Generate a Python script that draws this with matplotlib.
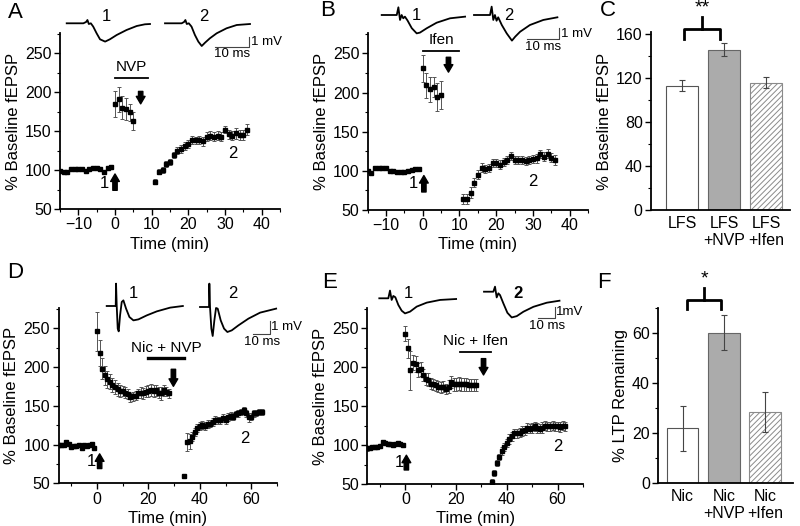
import numpy as np
import matplotlib
matplotlib.use('Agg')
import matplotlib.pyplot as plt
from matplotlib.ticker import MultipleLocator

plt.rcParams['font.family'] = ['Liberation Sans', 'DejaVu Sans']
plt.rcParams['hatch.linewidth'] = 0.7

W, H = 800, 526

# ---- time course data (% baseline fEPSP, mean +/- sem), one point per minute ----
a_base = [99, 98, 97, 101, 101, 102, 101, 99, 101, 103, 103, 101, 98, 103, 104]
a_base_err = [2, 2, 1.5, 2, 1.5, 2, 1.5, 2, 2, 1.5, 2, 2, 1.5, 2, 2]
a_post = [185, 191, 180, 178, 174, 163]
a_post_err = [17, 16, 15, 14, 11, 11]
a_rec = [85, 98, 100, 108, 110, 119, 125, 127, 131, 133, 139, 138, 139,
         137, 143, 144, 143, 144, 143, 152, 146, 144, 147, 145, 145, 152]
a_rec_err = [3, 3, 4, 4, 4, 4, 5, 5, 5, 5, 5, 5, 5, 6, 6, 6, 6, 6, 6, 5, 6, 6, 7, 6, 7, 7]

b_base = [100, 97, 104, 104, 103, 103, 100, 100, 98, 98, 99, 100, 101, 102, 102]
b_base_err = [2, 2, 2, 1.5, 1.5, 2, 2, 1.5, 1.5, 2, 2, 1.5, 2, 2, 2]
b_post = [231, 209, 204, 207, 194, 197]
b_post_err = [17, 16, 16, 13, 18, 18]
b_rec = [64, 64, 72, 85, 95, 104, 102, 104, 110, 110, 108, 111, 114,
         119, 114, 114, 114, 113, 114, 115, 116, 122, 118, 122, 117, 114]
b_rec_err = [6, 6, 7, 6, 6, 6, 5, 5, 5, 5, 6, 5, 5, 5, 5, 5, 5, 5, 5, 5, 6, 5, 6, 6, 6, 6]

d_base = [100, 99, 100, 103, 101, 97, 98, 98, 99, 96, 99, 98, 99, 101, 96]
d_base_err = [2, 1.5, 2, 2, 1.5, 2, 2, 1.5, 2, 2, 1.5, 2, 2, 2, 1.5]
d_post = [246, 218, 198, 189, 184, 181, 177, 174, 171, 169, 169, 167, 165, 161, 162,
          163, 166, 167, 166, 168, 169, 170, 169, 170, 167, 166, 170, 168, 166]
d_post_err = [25, 17, 14, 12, 11, 10, 9, 9, 8, 8, 7, 7, 6, 6, 6,
              6, 6, 7, 7, 7, 8, 8, 8, 7, 7, 8, 7, 6, 6]
d_dip = [59]
d_dip_err = [2]
d_rec = [103, 104, 110, 116, 121, 124, 125, 124, 126, 127, 129, 132, 131, 131, 134,
         132, 135, 137, 136, 139, 140, 142, 144, 140, 135, 136, 140, 141, 142, 142]
d_rec_err = [12, 10, 6, 5, 5, 5, 5, 5, 5, 5, 5, 5, 5, 5, 5,
             5, 5, 5, 5, 4, 4, 4, 4, 4, 6, 5, 4, 4, 4, 4]

e_base = [96, 96, 97, 97, 98, 99, 104, 103, 102, 101, 100, 102, 103, 101, 100]
e_base_err = [3, 2, 2, 2, 2, 1.5, 2, 2, 1.5, 2, 2, 1.5, 2, 2, 2]
e_post = [243, 224, 196, 206, 204, 196, 198, 190, 185, 184, 179, 178, 177, 175, 174,
          175, 172, 175, 181, 178, 178, 179, 178, 178, 178, 177, 177, 177, 177]
e_post_err = [10, 12, 25, 10, 10, 9, 9, 8, 8, 8, 7, 7, 7, 7, 7,
              7, 7, 8, 8, 8, 8, 8, 8, 8, 8, 8, 8, 8, 8]
e_rec = [53, 64, 77, 85, 92, 98, 103, 108, 111, 115, 115, 116, 118, 119, 122,
         121, 122, 124, 122, 121, 122, 125, 124, 124, 125, 124, 124, 123, 125, 124]
e_rec_err = [3, 4, 4, 4, 5, 5, 5, 6, 6, 6, 6, 6, 6, 6, 6,
             6, 6, 6, 6, 6, 7, 6, 6, 6, 6, 6, 6, 6, 6, 6]

# ---- summary bars ----
c_labels = ['LFS', 'LFS\n+NVP', 'LFS\n+Ifen']
c_vals = [113, 146, 116]
c_err = [5, 6, 5]
f_labels = ['Nic', 'Nic\n+NVP', 'Nic\n+Ifen']
f_vals = [22, 60.3, 28.5]
f_err = [9, 7, 8]

# ---- example fEPSP traces (ms, mV relative to baseline) ----
a1_t = [0, 4.9, 5.7, 6.1, 6.5, 7.1, 7.8, 8.8, 9.8, 11.3, 12.7, 14.7, 17.6, 20.6, 23.0, 24.5]
a1_v = [0, 0, 0.13, 0.33, -0.07, 0, -0.33, -1.0, -1.6, -1.83, -1.6, -1.17, -0.67, -0.27, -0.1, -0.07]
a2_t = [0, 4.9, 5.6, 6.0, 6.4, 7.0, 7.8, 8.8, 9.8, 10.8, 11.8, 13.2, 15.2, 18.1, 21.1, 25.0]
a2_v = [0, 0, 0.13, 0.33, -0.07, 0, -0.33, -1.17, -1.83, -2.27, -1.93, -1.5, -1.0, -0.5, -0.17, -0.07]
b1_t = [0, 4.6, 5.1, 5.6, 6.1, 6.6, 7.1, 7.9, 9.2, 10.7, 11.7, 13.8, 16.8, 20.9, 25.5]
b1_v = [0, 0, 0.7, -0.45, 0, -0.3, -0.15, -0.5, -1.2, -1.67, -1.6, -1.2, -0.7, -0.3, -0.15]
b2_t = [0, 4.9, 5.4, 5.9, 6.4, 6.9, 7.4, 8.5, 10.0, 11.6, 12.6, 14.1, 17.1, 21.2, 25.5]
b2_v = [0, 0, 0.76, -0.45, 0, -0.52, -0.21, -0.91, -1.67, -2.33, -1.97, -1.52, -0.91, -0.45, -0.21]
d1_t = [0, 5.4, 5.6, 6.0, 6.6, 7.2, 8.0, 9.0, 10.0, 11.6, 13.6, 16.0, 19.0, 24.0, 30.0, 38.0, 45.6]
d1_v = [0, 0, 1.79, 0, -1.81, -2.03, -0.75, 0.32, 0.45, -0.21, -0.88, -1.15, -1.07, -0.75, -0.43, -0.13, 0]
d2_t = [0, 5.4, 5.6, 6.0, 6.8, 7.6, 8.6, 9.6, 10.6, 12.4, 14.4, 16.4, 19.0, 23.0, 29.0, 36.0, 45.6]
d2_v = [0, 0, 1.87, 0, -1.73, -2.32, -1.07, -0.08, -0.13, -1.07, -1.73, -2.0, -1.87, -1.47, -0.93, -0.45, -0.13]
e1_t = [0, 5.4, 6.4, 7.4, 8.4, 9.6, 11.4, 13.4, 15.4, 18.4, 22.4, 28.4, 36.4, 46.0]
e1_v = [0, 0, 0.66, -0.14, 0.2, 0.09, -0.57, -1.06, -1.29, -1.14, -0.71, -0.37, -0.14, -0.06]
e2_t = [0, 5.6, 6.6, 7.6, 8.6, 9.6, 11.6, 14.0, 16.6, 19.6, 23.6, 29.6, 37.6, 45.2]
e2_v = [0, 0, 0.43, -0.49, -0.14, -0.29, -1.0, -1.8, -2.2, -2.09, -1.71, -1.29, -0.94, -0.77]

TICK_FS = 11.5
LABEL_FS = 12

fig = plt.figure(figsize=(8, 5.26), dpi=100)


def px_axes(left, right, top, bottom):
    return fig.add_axes([left / W, 1 - bottom / H, (right - left) / W, (bottom - top) / H])


def style(ax):
    for s in ['top', 'right']:
        ax.spines[s].set_visible(False)
    for s in ['left', 'bottom']:
        ax.spines[s].set_linewidth(1.3)
    ax.tick_params(which='major', direction='out', length=4, width=1, labelsize=TICK_FS, pad=2)
    ax.tick_params(which='minor', direction='out', length=2.5, width=0.8)


def series(ax, t0, vals, errs):
    t = np.arange(len(vals)) + t0
    ax.errorbar(t, vals, yerr=errs, fmt='s', color='k', ms=3.4, mec='k',
                ecolor='#555555', elinewidth=0.7, capsize=1.5, capthick=0.7)


def down_arrow(ax, x, y_tail, y_head):
    ax.annotate('', xy=(x, y_head), xytext=(x, y_tail),
                arrowprops=dict(arrowstyle='simple,head_width=0.7,head_length=0.6,tail_width=0.35',
                                color='k', mutation_scale=9, shrinkA=0, shrinkB=0))


def time_panel(box, xlim, xmaj, xmin_, parts, drug, drug_label, drug_y, drug_lw, arr_out,
               arr_in, lab1, lab2):
    ax = px_axes(*box)
    style(ax)
    for t0, vals, errs in parts:
        series(ax, t0, vals, errs)
    ax.set_xlim(*xlim)
    ax.set_ylim(50, 276)
    ax.xaxis.set_major_locator(MultipleLocator(xmaj))
    ax.xaxis.set_minor_locator(MultipleLocator(xmin_))
    ax.yaxis.set_major_locator(MultipleLocator(50))
    ax.yaxis.set_minor_locator(MultipleLocator(25))
    ax.set_ylabel('% Baseline fEPSP', fontsize=LABEL_FS, labelpad=3)
    ax.set_xlabel('Time (min)', fontsize=LABEL_FS, labelpad=3)
    ax.plot(drug, [drug_y, drug_y], color='k', lw=drug_lw)
    ax.text((drug[0] + drug[1]) / 2, drug_y + 5, drug_label, ha='center', va='bottom', fontsize=11)
    down_arrow(ax, arr_out[0], arr_out[1], arr_out[2])
    down_arrow(ax, arr_in[0], arr_in[1], arr_in[2])
    ax.text(lab1[0], lab1[1], '1', ha='center', va='center', fontsize=12)
    ax.text(lab2[0], lab2[1], '2', ha='center', va='center', fontsize=12)
    return ax


def trace_strip(x0, y0, w, h, ms_px, mv_px, traces, sb, labels, bold2=False, mv_text='1 mV'):
    ax = fig.add_axes([x0 / W, 1 - (y0 + h) / H, w / W, h / H])
    ax.set_xlim(0, w / ms_px)
    ax.set_ylim(-h / mv_px, 0)
    ax.axis('off')
    for (t, v), (px, py) in traces:
        ax.plot(np.array(t) + px / ms_px, np.array(v) - py / mv_px, color='k', lw=1.3)
    cx, cy = sb[0] / ms_px, -sb[1] / mv_px
    ax.plot([cx - 10, cx, cx], [cy, cy, cy + 1], color='#444444', lw=0.8)
    ax.text(cx + 0.6, cy + 0.5, mv_text, ha='left', va='center', fontsize=9.5)
    ax.text(cx - 5, cy - 0.15, '10 ms', ha='center', va='top', fontsize=9.5)
    for i, (lx, ly) in enumerate(labels):
        ax.text(lx / ms_px, -ly / mv_px, str(i + 1), ha='center', va='center', fontsize=12,
                fontweight='bold' if (bold2 and i == 1) else 'normal')
    return ax


# A
axA = time_panel((60, 280, 33, 209), (-15, 45), 10, 5,
                 [(-15, a_base, a_base_err), (0, a_post, a_post_err), (11, a_rec, a_rec_err)],
                 (0, 9), 'NVP', 218, 1.3, (7, 201, 185), (0, 74, 95), (-2.8, 83), (32, 121))
trace_strip(60, 0, 220, 60, 3.4, 10, [((a1_t, a1_v), (6.7, 23.3)), ((a2_t, a2_v), (105, 23.3))],
            (189.3, 46.7), [(46.7, 16.7), (144, 16.7)])

# B
axB = time_panel((367.7, 588, 33, 210), (-15, 45), 10, 5,
                 [(-15, b_base, b_base_err), (0, b_post, b_post_err), (11, b_rec, b_rec_err)],
                 (0, 10), 'Ifen', 253, 1.3, (7, 245, 226), (0.3, 73, 94), (-2.6, 84), (30, 86))
trace_strip(367, 0, 220, 60, 3.27, 11, [((b1_t, b1_v), (14.7, 15)), ((b2_t, b2_v), (107, 15))],
            (192.3, 39.3), [(49.7, 15), (142, 15)])

# D
axD = time_panel((58.5, 277, 308, 483.3), (-15, 70), 20, 10,
                 [(-15, d_base, d_base_err), (0, d_post, d_post_err), (34, d_dip, d_dip_err),
                  (35, d_rec, d_rec_err)],
                 (20, 34), 'Nic + NVP', 211, 2.4, (29.7, 197, 175), (1, 69, 88), (-2.2, 78), (57.5, 108))
trace_strip(58, 262, 230, 80, 1.67, 12.5, [((d1_t, d1_v), (48.7, 44)), ((d2_t, d2_v), (142, 45))],
            (212, 71.7), [(75.3, 31.3), (175.3, 31.3)])

# E
axE = time_panel((367.3, 583, 308, 484), (-15, 70), 20, 10,
                 [(-15, e_base, e_base_err), (0, e_post, e_post_err), (34, e_rec, e_rec_err)],
                 (21.5, 33.7), 'Nic + Ifen', 220, 1.3, (30.8, 211, 190), (0.4, 68, 87), (-2.2, 78),
                 (60, 98))
trace_strip(367, 262, 220, 70, 1.67, 11.7, [((e1_t, e1_v), (12.3, 36.3)), ((e2_t, e2_v), (117, 29.7))],
            (188, 56.3), [(41.3, 31.3), (150.7, 31.3)], bold2=True, mv_text='1mV')


def bar_panel(box, labels, vals, errs, xlim, ylim, ymaj, ymin_, ylabel, bracket, stars):
    ax = px_axes(*box)
    style(ax)
    x = np.arange(len(vals))
    bars = ax.bar(x, vals, width=0.77, yerr=errs, capsize=2,
                  error_kw=dict(ecolor='#444444', elinewidth=0.8, capthick=0.8),
                  linewidth=0.8, zorder=2)
    bars[0].set_facecolor('white')
    bars[0].set_edgecolor('#555555')
    bars[1].set_facecolor('#ababab')
    bars[1].set_edgecolor('#666666')
    bars[2].set_facecolor('white')
    bars[2].set_edgecolor('#8a8a8a')
    bars[2].set_hatch('//////')
    ax.set_xlim(*xlim)
    ax.set_ylim(*ylim)
    ax.set_xticks(x)
    ax.set_xticklabels(labels, fontsize=TICK_FS)
    ax.tick_params(axis='x', length=0, pad=4)
    ax.yaxis.set_major_locator(MultipleLocator(ymaj))
    ax.yaxis.set_minor_locator(MultipleLocator(ymin_))
    ax.set_ylabel(ylabel, fontsize=LABEL_FS, labelpad=3)
    bx0, bx1, by, bleg, bstem, bx_stem = bracket
    ax.plot([bx0, bx0, bx1, bx1], [by - bleg, by, by, by - bleg], color='k', lw=2, clip_on=False)
    ax.plot([bx_stem, bx_stem], [by, bstem], color='k', lw=2, clip_on=False)
    ax.text(bx_stem, bstem, stars, ha='center', va='bottom', fontsize=14, clip_on=False)
    return ax


axC = bar_panel((651, 790, 32, 210), c_labels, c_vals, c_err, (-0.74, 2.57), (0, 162), 40, 20,
                '% Baseline fEPSP', (0.05, 0.9, 165, 9, 176, 0.47), '**')
axF = bar_panel((658.3, 793, 308.3, 483.3), f_labels, f_vals, f_err, (-0.59, 2.68), (0, 70), 20, 10,
                '% LTP Remaining', (0.1, 0.93, 73.3, 3.6, 78.3, 0.53), '*')

for letter, (lx, ly) in {'A': (8, 13), 'B': (320, 10), 'C': (600, 10),
                         'D': (7, 273), 'E': (322, 282), 'F': (597, 282)}.items():
    fig.text(lx / W, 1 - ly / H, letter, fontsize=16, ha='left', va='center')

fig.savefig('out.png', dpi=100)
